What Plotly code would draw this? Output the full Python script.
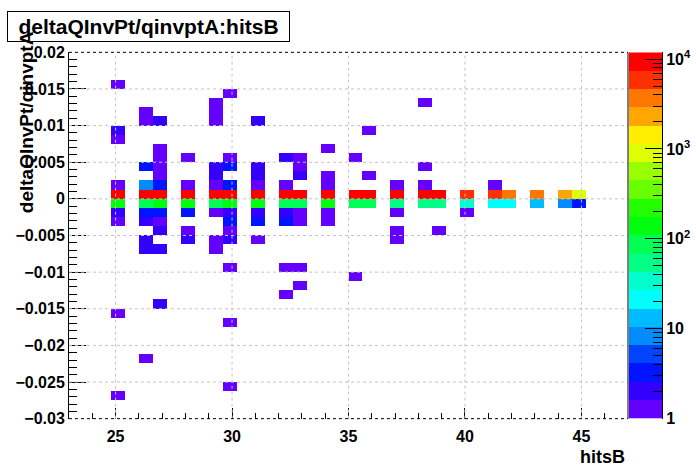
import colorsys
import numpy as np
import plotly.graph_objects as go

# ---------------- data ----------------
x_min, x_max, nx_bins = 23.0, 47.0, 40
y_min, y_max, ny_bins = -0.03, 0.02, 40

cell_hits = [
    25, 25, 25, 25, 25, 25, 25, 25, 25, 25,
    26, 26, 26, 26, 26, 26, 26, 26, 26, 26, 26,
    27, 27, 27, 27, 27, 27, 27, 27, 27, 27, 27, 27, 27,
    28, 28, 28, 28, 28, 28, 28,
    29, 29, 29, 29, 29, 29, 29, 29, 29, 29, 29,
    30, 30, 30, 30, 30, 30, 30, 30, 30, 30, 30, 30, 30,
    31, 31, 31, 31, 31, 31, 31, 31, 31,
    32, 32, 32, 32, 32, 32, 32, 32,
    33, 33, 33, 33, 33, 33, 33, 33, 33,
    34, 34, 34, 34, 34, 34, 34,
    35, 35, 35, 35,
    36, 36, 36, 36,
    37, 37, 37, 37, 37, 37,
    38, 38, 38, 38, 38,
    39, 39, 39,
    40, 40, 40,
    41, 41, 41,
    42, 42,
    43, 43,
    44, 44,
    45, 45,
]
cell_dq = [
    0.0156, 0.0094, 0.0081, 0.0019, 0.0006, -0.0006, -0.0019, -0.0031, -0.0156, -0.0269,
    0.0119, 0.0106, 0.0044, 0.0019, 0.0006, -0.0006, -0.0019, -0.0031, -0.0056, -0.0069, -0.0219,
    0.0106, 0.0069, 0.0056, 0.0044, 0.0031, 0.0019, 0.0006, -0.0006, -0.0019, -0.0031, -0.0044, -0.0069, -0.0144,
    0.0056, 0.0019, 0.0006, -0.0006, -0.0019, -0.0044, -0.0056,
    0.0131, 0.0119, 0.0106, 0.0044, 0.0031, 0.0019, 0.0006, -0.0006, -0.0019, -0.0056, -0.0069,
    0.0144, 0.0056, 0.0044, 0.0019, 0.0006, -0.0006, -0.0019, -0.0031, -0.0044, -0.0056, -0.0094, -0.0169, -0.0256,
    0.0106, 0.0044, 0.0031, 0.0019, 0.0006, -0.0006, -0.0019, -0.0031, -0.0056,
    0.0056, 0.0019, 0.0006, -0.0006, -0.0019, -0.0031, -0.0094, -0.0131,
    0.0056, 0.0044, 0.0031, 0.0006, -0.0006, -0.0019, -0.0031, -0.0094, -0.0119,
    0.0069, 0.0031, 0.0019, 0.0006, -0.0006, -0.0019, -0.0031,
    0.0056, 0.0006, -0.0006, -0.0106,
    0.0094, 0.0031, 0.0006, -0.0006,
    0.0019, 0.0006, -0.0006, -0.0019, -0.0044, -0.0056,
    0.0131, 0.0044, 0.0019, 0.0006, -0.0006,
    0.0006, -0.0006, -0.0044,
    0.0006, -0.0006, -0.0019,
    0.0019, 0.0006, -0.0006,
    0.0006, -0.0006,
    0.0006, -0.0006,
    0.0006, -0.0006,
    0.0006, -0.0006,
]
cell_counts = [
    1, 2, 1, 1, 9500, 140, 2, 1, 1, 1,
    1, 1, 3, 8, 9500, 85, 3, 2, 2, 2, 1,
    2, 1, 1, 1, 1, 3, 9500, 140, 3, 1, 2, 2, 2,
    1, 1, 9500, 140, 3, 1, 2,
    1, 1, 1, 2, 2, 1, 9500, 85, 1, 1, 1,
    1, 1, 3, 3, 11800, 140, 2, 3, 1, 2, 1, 1, 1,
    2, 2, 2, 1, 9500, 140, 2, 3, 1,
    2, 1, 9500, 85, 2, 3, 1, 1,
    1, 1, 2, 9500, 85, 1, 1, 1, 1,
    1, 1, 1, 9500, 140, 1, 1,
    1, 9500, 85, 1,
    1, 1, 9500, 85,
    1, 9500, 55, 1, 1, 1,
    1, 1, 1, 9500, 55,
    9500, 55, 1,
    5800, 34, 1,
    1, 5800, 20,
    3600, 20,
    3600, 12,
    2300, 8,
    900, 3,
]

z_log_max = 4.075          # top of the colour axis (log10 of the maximum)
n_contours = 20

x_tickvals = [25, 30, 35, 40, 45]
y_tickvals = [0.02, 0.015, 0.01, 0.005, 0.0, -0.005, -0.01, -0.015, -0.02, -0.025, -0.03]
y_ticktext = ["0.02", "0.015", "0.01", "0.005", "0", "\u22120.005", "\u22120.01",
              "\u22120.015", "\u22120.02", "\u22120.025", "\u22120.03"]
cb_tickvals = [0, 1, 2, 3, 4]
cb_ticktext = ["1", "10", "10<sup>2</sup>", "10<sup>3</sup>", "10<sup>4</sup>"]

# ---------------- histogram filling ----------------
x_edges = np.linspace(x_min, x_max, nx_bins + 1)
y_edges = np.linspace(y_min, y_max, ny_bins + 1)
counts = np.zeros((ny_bins, nx_bins))
dx = (x_max - x_min) / nx_bins
dy = (y_max - y_min) / ny_bins
for h, q, c in zip(cell_hits, cell_dq, cell_counts):
    i = int(np.floor((h - x_min) / dx + 1e-9))
    j = int(np.floor((q - y_min) / dy + 1e-9))
    counts[j, i] += c
z = [[(float(np.log10(v)) if v > 0 else None) for v in row] for row in counts]

# ---------------- ROOT "pretty" palette, 20 contour levels ----------------
def palette_color(cidx):
    idx = int((cidx + 0.99) * 50.0 / n_contours)
    hue = 280.0 - (idx + 1) * (280.0 / 50.0)
    r, g, b = colorsys.hls_to_rgb(hue / 360.0, 0.5, 1.0)
    return "rgb(%d,%d,%d)" % (round(r * 255), round(g * 255), round(b * 255))

colorscale = []
for c in range(n_contours):
    col = palette_color(c)
    colorscale.append([c / n_contours, col])
    colorscale.append([(c + 1) / n_contours, col])

step = z_log_max / n_contours
band_edges = [c * step for c in range(n_contours + 1)]
band_mid = [[(c + 0.5) * step] for c in range(n_contours)]
cb_minor = [float(np.log10(m * 10 ** d)) for d in range(0, 4) for m in range(2, 10)]

FONT = "Liberation Sans, Arial, Helvetica, sans-serif"
W, H = 696, 472
L, R, T, B = 69, 628, 46, 426
GRID = "#c4c4c4"

fig = go.Figure()
fig.add_trace(go.Heatmap(
    x=x_edges, y=y_edges, z=z, colorscale=colorscale, zmin=0, zmax=z_log_max,
    showscale=False, xaxis="x", yaxis="y", hoverinfo="skip"))
fig.add_trace(go.Heatmap(
    x=[0, 1], y=band_edges, z=band_mid, colorscale=colorscale, zmin=0, zmax=z_log_max,
    showscale=False, xaxis="x2", yaxis="y2", hoverinfo="skip"))

# grid drawn above the cells, as ROOT does (at the major tick positions)
grid_shapes = []
for xv in x_tickvals:
    grid_shapes.append(dict(type="line", xref="x", yref="y domain", x0=xv, x1=xv,
                            y0=0, y1=1, layer="above",
                            line=dict(color=GRID, width=1, dash="dot")))
for yv in y_tickvals:
    if y_min < yv < y_max:
        grid_shapes.append(dict(type="line", xref="x domain", yref="y", x0=0, x1=1,
                                y0=yv, y1=yv, layer="above",
                                line=dict(color=GRID, width=1, dash="dot")))

frame_shapes = [
    dict(type="line", xref="x domain", yref="y domain", x0=0, x1=1, y0=1, y1=1,
         line=dict(color="black", width=1, dash="dot"), layer="above"),
    dict(type="line", xref="x domain", yref="y domain", x0=0, x1=1, y0=0, y1=0,
         line=dict(color="black", width=1, dash="dot"), layer="above"),
    dict(type="line", xref="x domain", yref="y domain", x0=1, x1=1, y0=0, y1=1,
         line=dict(color="black", width=1), layer="above"),
]

tickfont = dict(family=FONT, size=16, color="black", weight="bold")
fig.update_layout(
    width=W, height=H, margin=dict(l=0, r=0, t=0, b=0),
    paper_bgcolor="white", plot_bgcolor="white", showlegend=False,
    xaxis=dict(domain=[L / W, R / W], range=[x_min, x_max], anchor="y",
               tickmode="array", tickvals=x_tickvals, ticks="inside", ticklen=11,
               tickcolor="black", tickwidth=1, tickfont=tickfont, ticklabelstandoff=6,
               showgrid=False, zeroline=False, showline=False, layer="above traces",
               minor=dict(ticks="inside", ticklen=6, dtick=1, tick0=23,
                          tickcolor="black", showgrid=False)),
    yaxis=dict(domain=[1 - B / H, 1 - T / H], range=[y_min, y_max], anchor="x",
               tickmode="array", tickvals=y_tickvals, ticktext=y_ticktext,
               ticks="inside", ticklen=17, tickcolor="black", tickwidth=1,
               tickfont=tickfont, showgrid=False, zeroline=False, showline=True,
               linecolor="black", linewidth=1, layer="above traces",
               minor=dict(ticks="inside", ticklen=8, dtick=0.001, tick0=0,
                          tickcolor="black", showgrid=False)),
    xaxis2=dict(domain=[629 / W, 662 / W], range=[0, 1], anchor="y2", visible=False),
    yaxis2=dict(domain=[1 - B / H, 1 - T / H], range=[0, z_log_max], anchor="x2",
                side="right", tickmode="array", tickvals=cb_tickvals,
                ticktext=cb_ticktext, ticks="inside", ticklen=17, tickcolor="black",
                tickfont=tickfont, showgrid=False, zeroline=False, showline=True,
                linecolor="black", linewidth=1, layer="above traces",
                minor=dict(ticks="inside", ticklen=9, tickmode="array",
                           tickvals=cb_minor, tickcolor="black", showgrid=False)),
    shapes=grid_shapes + frame_shapes,
    annotations=[
        dict(text="deltaQInvPt/qinvptA:hitsB", xref="paper", yref="paper",
             x=7 / W, y=1 - 3 / H, xanchor="left", yanchor="top", showarrow=False,
             width=281, height=29, borderpad=0, bordercolor="black", borderwidth=1,
             bgcolor="white", font=dict(family=FONT, size=21, color="black", weight="bold")),
        dict(text="deltaQInvPt/qinvptA", xref="paper", yref="paper",
             x=26 / W, y=1 - 22 / H, xanchor="center", yanchor="top", textangle=-90,
             showarrow=False, font=dict(family=FONT, size=19, color="black", weight="bold")),
        dict(text="hitsB", xref="paper", yref="paper",
             x=627 / W, y=1 - 466 / H, xanchor="right", yanchor="middle",
             showarrow=False, font=dict(family=FONT, size=18, color="black", weight="bold")),
    ],
)

fig.write_html("out.html",
               config={"displayModeBar": False},
               post_script="document.body.style.margin='0px';"
                           "document.body.style.padding='0px';"
                           "document.documentElement.style.overflow='hidden';")
